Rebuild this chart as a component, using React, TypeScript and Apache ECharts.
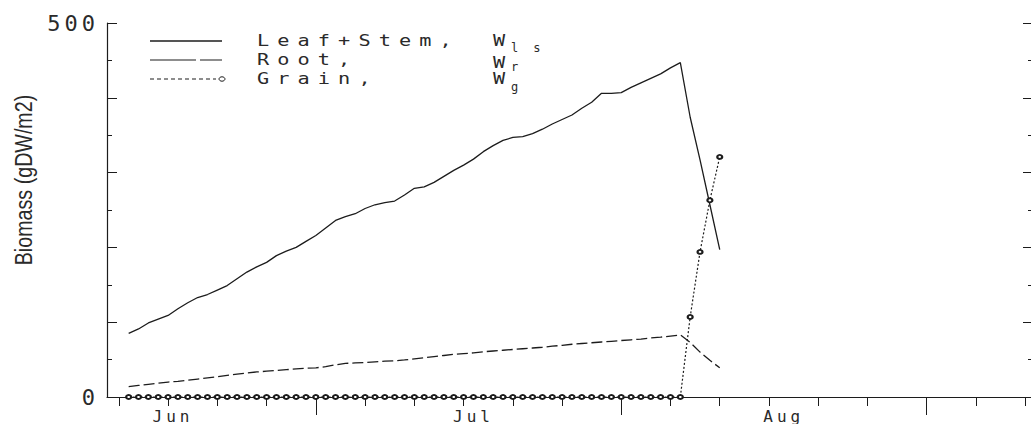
import React, { useEffect, useRef } from "react";
import * as echarts from "echarts";

// Day of year (Jun 12 = 163 ... Aug 11 = 223)
const days = [
  163, 164, 165, 166, 167, 168, 169, 170, 171, 172,
  173, 174, 175, 176, 177, 178, 179, 180, 181, 182,
  183, 184, 185, 186, 187, 188, 189, 190, 191, 192,
  193, 194, 195, 196, 197, 198, 199, 200, 201, 202,
  203, 204, 205, 206, 207, 208, 209, 210, 211, 212,
  213, 214, 215, 216, 217, 218, 219, 220, 221, 222,
  223,
];

// Leaf + Stem biomass, W_ls (gDW/m2)
const leafStem = [
  85, 91, 99, 104, 109, 118, 126, 133, 137, 143,
  149, 158, 167, 174, 180, 189, 195, 200, 208, 216,
  226, 236, 241, 245, 252, 257, 260, 262, 270, 279,
  281, 287, 295, 303, 310, 318, 328, 336, 343, 347,
  348, 352, 358, 365, 371, 377, 386, 394, 406, 406,
  407, 414, 420, 426, 432, 440, 447, 374, 317, 257,
  197,
];

// Root biomass, W_r (gDW/m2)
const root = [
  14, 15.5, 17, 18.5, 20, 21, 22.5, 24, 25.5, 27,
  29, 30.5, 32, 33.5, 34.5, 35.5, 36.5, 37.5, 38.5, 39,
  40.5, 43, 45, 45.5, 46, 47, 48, 48.5, 49.5, 51,
  52.5, 54, 55.5, 57, 58, 59, 60.5, 61.5, 62.5, 63.5,
  64.5, 65.5, 66.5, 68, 69, 70.5, 71.5, 72.5, 73.5, 74.5,
  75.5, 76.5, 77.5, 79, 80, 81.5, 83, 73, 60, 49,
  39,
];

// Grain biomass, W_g (gDW/m2)
const grain = [
  0, 0, 0, 0, 0, 0, 0, 0, 0, 0,
  0, 0, 0, 0, 0, 0, 0, 0, 0, 0,
  0, 0, 0, 0, 0, 0, 0, 0, 0, 0,
  0, 0, 0, 0, 0, 0, 0, 0, 0, 0,
  0, 0, 0, 0, 0, 0, 0, 0, 0, 0,
  0, 0, 0, 0, 0, 0, 0, 107, 194, 263,
  321,
];

const yTickLabels = [0, 500];
const fiveDayTicks = [162, 167, 172, 177, 187, 192, 197, 202, 207, 218, 223, 228, 233, 238, 249, 254];
const monthStartDays = [182, 213, 244];
const monthLabelDays = [167.5, 198, 229.5];
const monthLabels = ["Jun", "Jul", "Aug"];
const legendNames = ["Leaf+Stem,", "Root,", "Grain,"];
const legendSubscripts = ["ls", "r", "g"];
const yTitle = "Biomass (gDW/m2)";

const INK = "#1c1c1c";
const TXT = "#2a2a2a";
const MONO = "'DejaVu Sans Mono'";

const css = `
.bio-chart text[style*="legendfont"] { letter-spacing: 6px; }
.bio-chart text[style*="subfont"] { letter-spacing: 15px; }
.bio-chart text[style*="xlabelfont"] { letter-spacing: 4px; }
.bio-chart text[style*="ylabelfont"] { letter-spacing: 4px; }
`;

export default function App() {
  const ref = useRef<HTMLDivElement>(null);

  useEffect(() => {
    if (!ref.current) return;
    const chart = echarts.init(ref.current, undefined, { renderer: "svg" });

    const rowsY = [41, 60, 79];
    const wY = [41, 63, 79];
    const subY = [48, 67, 87];

    const legendGraphics: any[] = [
      { type: "line", silent: true, shape: { x1: 150, y1: rowsY[0], x2: 222, y2: rowsY[0] }, style: { stroke: INK, lineWidth: 1.3 } },
      { type: "line", silent: true, shape: { x1: 150, y1: rowsY[1], x2: 222, y2: rowsY[1] }, style: { stroke: INK, lineWidth: 1.2, lineDash: [46, 4, 22, 0] } },
      { type: "line", silent: true, shape: { x1: 150, y1: rowsY[2], x2: 216, y2: rowsY[2] }, style: { stroke: INK, lineWidth: 1.2, lineDash: [4, 3] } },
      { type: "ellipse", silent: true, shape: { cx: 222, cy: rowsY[2], rx: 3, ry: 2.2 }, style: { fill: "#fff", stroke: INK, lineWidth: 1 } },
    ];
    legendNames.forEach((name, i) => {
      legendGraphics.push({
        type: "text", silent: true, x: 257, y: rowsY[i], scaleX: 1.35,
        style: { text: name, fontSize: 15, fontFamily: `${MONO}, legendfont`, fill: TXT, align: "left", verticalAlign: "middle" },
      });
      legendGraphics.push({
        type: "text", silent: true, x: 493, y: wY[i], scaleX: 1.35,
        style: { text: "W", fontSize: 15, fontFamily: `${MONO}, legendfont`, fill: TXT, align: "left", verticalAlign: "middle" },
      });
      legendGraphics.push({
        type: "text", silent: true, x: 511, y: subY[i],
        style: { text: legendSubscripts[i], fontSize: 12, fontFamily: `${MONO}, subfont`, fill: TXT, align: "left", verticalAlign: "middle" },
      });
    });
    legendGraphics.push({
      type: "text", silent: true, x: 24, y: 180, rotation: Math.PI / 2, scaleX: 0.82,
      style: { text: yTitle, fontSize: 24, fontFamily: "'Liberation Sans', Arial, sans-serif", fill: TXT, align: "center", verticalAlign: "middle" },
    });

    const xMin = 160.8;
    const xMax = 254.8;

    const option: any = {
      animation: false,
      backgroundColor: "#ffffff",
      grid: { left: 107, right: -2, top: 23, bottom: 27, containLabel: false, outerBoundsMode: "none" },
      xAxis: [
        {
          type: "value", min: xMin, max: xMax, position: "bottom",
          axisLine: { show: true, onZero: false, lineStyle: { color: INK, width: 1.2 } },
          axisTick: { show: true, customValues: fiveDayTicks, length: 9, lineStyle: { color: INK, width: 1 } },
          axisLabel: { show: false },
          splitLine: { show: false },
        },
        {
          type: "value", min: xMin, max: xMax, position: "bottom",
          axisLine: { show: false, onZero: false },
          axisTick: { show: true, customValues: monthStartDays, length: 18, lineStyle: { color: INK, width: 1 } },
          axisLabel: {
            show: true, customValues: monthLabelDays, margin: 11, fontSize: 16,
            fontFamily: `${MONO}, xlabelfont`, color: TXT,
            formatter: (v: number) => {
              const i = monthLabelDays.findIndex((d) => Math.abs(d - v) < 1e-6);
              return i >= 0 ? monthLabels[i] : "";
            },
          },
          splitLine: { show: false },
        },
      ],
      yAxis: [
        {
          type: "value", min: 0, max: 500, interval: 100, position: "left",
          axisLine: { show: true, onZero: false, lineStyle: { color: INK, width: 1.2 } },
          axisTick: { show: true, inside: true, length: 10, lineStyle: { color: INK, width: 1 } },
          minorTick: { show: true, splitNumber: 2, length: 5, lineStyle: { color: INK, width: 1 } },
          axisLabel: { show: true, customValues: yTickLabels, margin: 8, fontSize: 22, fontFamily: `${MONO}, ylabelfont`, color: TXT },
          splitLine: { show: false },
          minorSplitLine: { show: false },
        },
        {
          type: "value", min: 0, max: 500, interval: 100, position: "right",
          axisLine: { show: false, onZero: false },
          axisTick: { show: true, inside: true, length: 10, lineStyle: { color: INK, width: 1 } },
          minorTick: { show: true, splitNumber: 2, length: 5, lineStyle: { color: INK, width: 1 } },
          axisLabel: { show: false },
          splitLine: { show: false },
          minorSplitLine: { show: false },
        },
      ],
      series: [
        {
          name: "Leaf+Stem", type: "line", xAxisIndex: 0, yAxisIndex: 0,
          data: days.map((d, i) => [d, leafStem[i]]),
          symbol: "none", showSymbol: false,
          lineStyle: { color: INK, width: 1.3 }, z: 3, silent: true,
        },
        {
          name: "Root", type: "line", xAxisIndex: 0, yAxisIndex: 0,
          data: days.map((d, i) => [d, root[i]]),
          symbol: "none", showSymbol: false,
          lineStyle: { color: INK, width: 1.3, type: [11, 4] }, z: 3, silent: true,
        },
        {
          name: "Grain", type: "line", xAxisIndex: 0, yAxisIndex: 0,
          data: days.map((d, i) => [d, grain[i]]),
          symbol: "emptyCircle", symbolSize: [5, 4], showSymbol: true, showAllSymbol: true,
          itemStyle: { color: INK, borderColor: INK, borderWidth: 0.9 },
          lineStyle: { color: INK, width: 1.2, type: [2, 2] }, z: 4, silent: true,
        },
      ],
      graphic: legendGraphics,
    };

    chart.setOption(option);
    return () => chart.dispose();
  }, []);

  return (
    <>
      <style>{css}</style>
      <div
        ref={ref}
        className="bio-chart"
        style={{ position: "absolute", left: 0, top: 0, width: 1031, height: 424, background: "#fff" }}
      />
    </>
  );
}
